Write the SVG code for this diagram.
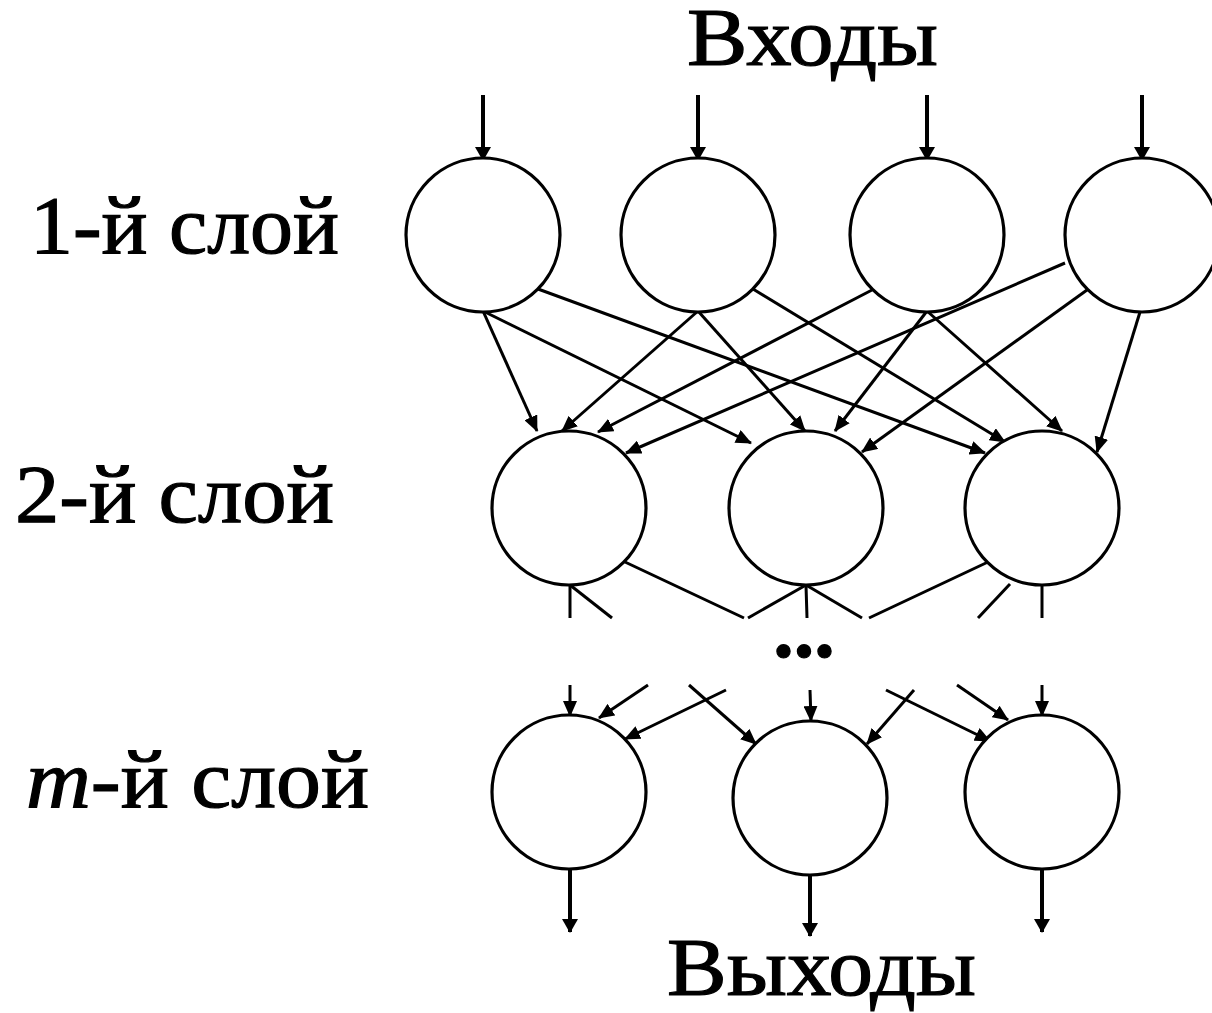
<svg xmlns="http://www.w3.org/2000/svg" width="1212" height="1013" viewBox="0 0 1212 1013">
  <style>
    .node { fill: #ffffff; stroke: #000000; stroke-width: 3.2; }
    .link { stroke: #000000; stroke-width: 3; fill: none; }
    .io { stroke: #000000; stroke-width: 4; fill: none; }
    .label { font-family: "Liberation Serif", "Times New Roman", serif; font-size: 82px; fill: #000000; stroke: #000000; stroke-width: 1.2; }
  </style>
  <defs>
    <marker id="head" markerUnits="userSpaceOnUse" markerWidth="16" markerHeight="14" refX="15" refY="7" orient="auto">
      <path d="M0,0 L16,7 L0,14 z" fill="#000000"/>
    </marker>
    <marker id="headIO" markerUnits="userSpaceOnUse" markerWidth="14" markerHeight="16" refX="13" refY="8" orient="auto">
      <path d="M0,0 L14,8 L0,16 z" fill="#000000"/>
    </marker>
  </defs>

  <rect x="0" y="0" width="1212" height="1013" fill="#ffffff"/>

  <!-- labels -->
  <text class="label" x="687" y="65" textLength="251" lengthAdjust="spacingAndGlyphs">Входы</text>
  <text class="label" x="667" y="995" textLength="309" lengthAdjust="spacingAndGlyphs">Выходы</text>
  <text class="label" x="30" y="253" textLength="309" lengthAdjust="spacingAndGlyphs">1-й слой</text>
  <text class="label" x="15" y="522" textLength="319" lengthAdjust="spacingAndGlyphs">2-й слой</text>
  <text class="label" x="26" y="807" textLength="343" lengthAdjust="spacingAndGlyphs"><tspan font-style="italic">m</tspan>-й слой</text>
  <text class="label" x="804" y="657" text-anchor="middle" font-size="88" font-weight="bold" stroke="none">...</text>

  <!-- connectors -->
  <g id="connectors">
    <!-- inputs -->
    <line class="io" x1="483" y1="95" x2="483" y2="160" marker-end="url(#headIO)"/>
    <line class="io" x1="698" y1="95" x2="698" y2="160" marker-end="url(#headIO)"/>
    <line class="io" x1="927" y1="95" x2="927" y2="160" marker-end="url(#headIO)"/>
    <line class="io" x1="1142" y1="95" x2="1142" y2="160" marker-end="url(#headIO)"/>

    <!-- layer 1 to layer 2 -->
    <line class="link" x1="483" y1="311" x2="537" y2="431" marker-end="url(#head)"/>
    <line class="link" x1="483" y1="311" x2="751" y2="443" marker-end="url(#head)"/>
    <line class="link" x1="538" y1="289" x2="985" y2="453" marker-end="url(#head)"/>
    <line class="link" x1="698" y1="311" x2="562" y2="431" marker-end="url(#head)"/>
    <line class="link" x1="698" y1="311" x2="805" y2="431" marker-end="url(#head)"/>
    <line class="link" x1="753" y1="289" x2="1005" y2="442" marker-end="url(#head)"/>
    <line class="link" x1="872" y1="290" x2="598" y2="432" marker-end="url(#head)"/>
    <line class="link" x1="927" y1="311" x2="835" y2="431" marker-end="url(#head)"/>
    <line class="link" x1="927" y1="311" x2="1062" y2="431" marker-end="url(#head)"/>
    <line class="link" x1="1065" y1="263" x2="626" y2="453" marker-end="url(#head)"/>
    <line class="link" x1="1087" y1="290" x2="862" y2="452" marker-end="url(#head)"/>
    <line class="link" x1="1140" y1="312" x2="1097" y2="452" marker-end="url(#head)"/>

    <!-- layer 2 outgoing (interrupted) -->
    <line class="link" x1="570" y1="585" x2="570" y2="618"/>
    <line class="link" x1="570" y1="585" x2="612" y2="618"/>
    <line class="link" x1="625" y1="562" x2="744" y2="618"/>
    <line class="link" x1="806" y1="585" x2="748" y2="618"/>
    <line class="link" x1="806" y1="585" x2="807" y2="618"/>
    <line class="link" x1="806" y1="585" x2="862" y2="618"/>
    <line class="link" x1="988" y1="562" x2="869" y2="618"/>
    <line class="link" x1="1010" y1="584" x2="978" y2="618"/>
    <line class="link" x1="1042" y1="585" x2="1042" y2="618"/>

    <!-- layer m incoming (interrupted) -->
    <line class="link" x1="570" y1="685" x2="570" y2="716" marker-end="url(#head)"/>
    <line class="link" x1="648" y1="685" x2="599" y2="718" marker-end="url(#head)"/>
    <line class="link" x1="726" y1="690" x2="625" y2="739" marker-end="url(#head)"/>
    <line class="link" x1="689" y1="685" x2="756" y2="744" marker-end="url(#head)"/>
    <line class="link" x1="810" y1="690" x2="811" y2="721" marker-end="url(#head)"/>
    <line class="link" x1="914" y1="690" x2="867" y2="744" marker-end="url(#head)"/>
    <line class="link" x1="886" y1="690" x2="990" y2="741" marker-end="url(#head)"/>
    <line class="link" x1="957" y1="685" x2="1008" y2="720" marker-end="url(#head)"/>
    <line class="link" x1="1042" y1="685" x2="1042" y2="716" marker-end="url(#head)"/>

    <!-- outputs -->
    <line class="io" x1="570" y1="869" x2="570" y2="932" marker-end="url(#headIO)"/>
    <line class="io" x1="810" y1="875" x2="810" y2="936" marker-end="url(#headIO)"/>
    <line class="io" x1="1042" y1="869" x2="1042" y2="932" marker-end="url(#headIO)"/>
  </g>

  <!-- layer 1 -->
  <g id="n1-1"><circle class="node" cx="483" cy="235" r="77"/></g>
  <g id="n1-2"><circle class="node" cx="698" cy="235" r="77"/></g>
  <g id="n1-3"><circle class="node" cx="927" cy="235" r="77"/></g>
  <g id="n1-4"><circle class="node" cx="1142" cy="235" r="77"/></g>

  <!-- layer 2 -->
  <g id="n2-1"><circle class="node" cx="569" cy="508" r="77"/></g>
  <g id="n2-2"><circle class="node" cx="806" cy="508" r="77"/></g>
  <g id="n2-3"><circle class="node" cx="1042" cy="508" r="77"/></g>

  <!-- layer m -->
  <g id="nm-1"><circle class="node" cx="569" cy="792" r="77"/></g>
  <g id="nm-2"><circle class="node" cx="810" cy="798" r="77"/></g>
  <g id="nm-3"><circle class="node" cx="1042" cy="792" r="77"/></g>
</svg>
